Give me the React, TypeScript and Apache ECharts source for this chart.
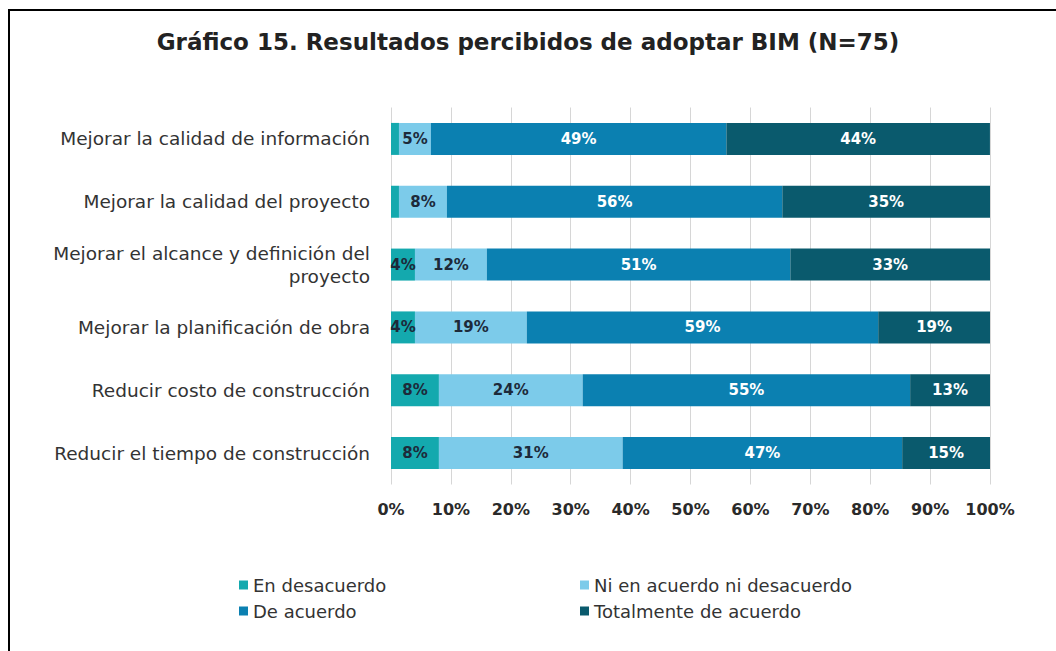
import React, { useEffect, useRef } from "react";
import * as echarts from "echarts";

const categories = [
  "Mejorar la calidad de información",
  "Mejorar la calidad del proyecto",
  "Mejorar el alcance y definición del\nproyecto",
  "Mejorar la planificación de obra",
  "Reducir costo de construcción",
  "Reducir el tiempo de construcción",
];

const seriesNames = [
  "En desacuerdo",
  "Ni en acuerdo ni desacuerdo",
  "De acuerdo",
  "Totalmente de acuerdo",
];

const enDesacuerdo = [1.33, 1.33, 4.0, 4.0, 8.0, 8.0];
const niAcuerdo = [5.33, 8.0, 12.0, 18.67, 24.0, 30.67];
const deAcuerdo = [49.33, 56.0, 50.67, 58.67, 54.67, 46.67];
const totalmente = [44.0, 34.67, 33.33, 18.67, 13.33, 14.67];

const xTicks = [0, 10, 20, 30, 40, 50, 60, 70, 80, 90, 100];

const colors = ["#14a9ae", "#7ccbea", "#0b80b1", "#0a5a6d"];
const labelColors = ["#1d2a3a", "#1d2a3a", "#ffffff", "#ffffff"];

const FONT = "'DejaVu Sans', 'Open Sans', sans-serif";

export default function App() {
  const ref = useRef<HTMLDivElement>(null);

  useEffect(() => {
    if (!ref.current) return;
    const chart = echarts.init(ref.current, null, { renderer: "svg" });
    const values = [enDesacuerdo, niAcuerdo, deAcuerdo, totalmente];

    const legendText = { fontFamily: FONT, fontSize: 18, color: "#333333", lineHeight: 18 };

    const option: any = {
      animation: false,
      backgroundColor: "#ffffff",
      textStyle: { fontFamily: FONT },
      title: {
        text: "Gráfico 15. Resultados percibidos de adoptar BIM (N=75)",
        left: "center",
        top: 25,
        textStyle: {
          fontFamily: FONT,
          fontSize: 23,
          fontWeight: "bold",
          color: "#222222",
        },
      },
      graphic: [
        {
          type: "rect",
          shape: { x: 9, y: 10, width: 1100, height: 700 },
          style: { fill: "none", stroke: "#000000", lineWidth: 2 },
          silent: true,
        },
      ],
      legend: [
        {
          data: [seriesNames[0], seriesNames[2]],
          orient: "vertical",
          left: 234,
          top: 571,
          itemWidth: 9,
          itemHeight: 9,
          itemGap: 8,
          icon: "rect",
          textStyle: legendText,
        },
        {
          data: [seriesNames[1], seriesNames[3]],
          orient: "vertical",
          left: 575,
          top: 571,
          itemWidth: 9,
          itemHeight: 9,
          itemGap: 8,
          icon: "rect",
          textStyle: legendText,
        },
      ],
      grid: { left: 391, right: 66, top: 107.5, bottom: 166.5, containLabel: false },
      xAxis: {
        type: "value",
        min: xTicks[0],
        max: xTicks[xTicks.length - 1],
        interval: xTicks[1] - xTicks[0],
        axisLine: { show: false },
        axisTick: { show: false },
        splitLine: { show: true, lineStyle: { color: "#d6d6d6", width: 1 } },
        axisLabel: {
          formatter: "{value}%",
          fontFamily: FONT,
          fontSize: 16,
          fontWeight: "bold",
          color: "#2a2a2a",
          margin: 17,
        },
      },
      yAxis: {
        type: "category",
        data: categories,
        inverse: true,
        axisLine: { show: false },
        axisTick: { show: false },
        splitLine: { show: false },
        axisLabel: {
          fontFamily: FONT,
          fontSize: 18.5,
          color: "#333333",
          margin: 21,
          lineHeight: 23,
          align: "right",
        },
      },
      series: seriesNames.map((name, i) => ({
        name,
        type: "bar",
        stack: "total",
        barWidth: 32,
        data: values[i],
        itemStyle: { color: colors[i] },
        label: {
          show: true,
          position: "inside",
          fontFamily: FONT,
          fontSize: 15,
          fontWeight: "bold",
          color: labelColors[i],
          formatter: (p: any) => (p.value >= 2 ? Math.round(p.value) + "%" : ""),
        },
      })),
    };

    chart.setOption(option);
    return () => chart.dispose();
  }, []);

  return (
    <div
      ref={ref}
      style={{ position: "absolute", left: 0, top: 0, width: 1056, height: 651 }}
    />
  );
}
